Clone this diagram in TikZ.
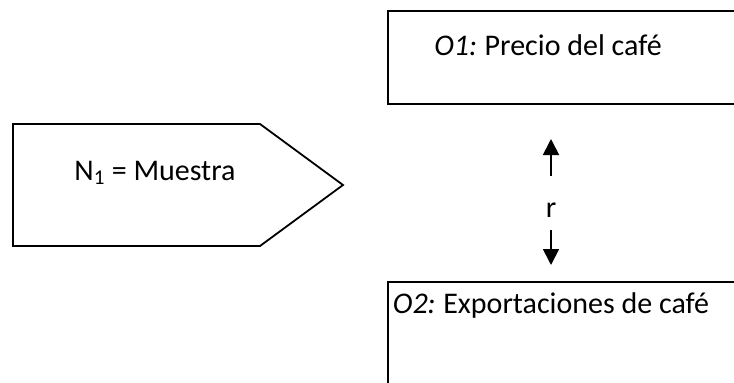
\documentclass[tikz,border=0pt]{standalone}
\usepackage{fontspec}
\setmainfont{Carlito}
\usetikzlibrary{arrows.meta,positioning}
\tikzstyle{box}=[rectangle,draw,line width=1.8pt,inner sep=0pt,anchor=north west]
\tikzstyle{label text}=[inner sep=0pt,anchor=base,font=\fontsize{30}{36}\selectfont]
\tikzstyle{rel}=[-{Triangle[width=16pt,length=16pt]},line width=1.8pt]

\begin{document}
\begin{tikzpicture}[x=1pt,y=-1pt]
\clip (0,0) rectangle (734,383);

% sample
\draw[line width=1.8pt] (13,124) -- (260,124) -- (343,185) -- (260,246) -- (13,246) -- cycle;
\node[label text] (n1) at (155,180) {N\textsubscript{1} = Muestra};

% observations
\node[box,minimum width=400pt,minimum height=93pt] (o1) at (387,10) {};
\node[label text] (o1 text) at (548,55) {\textit{O1:}\kern-1.5pt{} Precio del café};
\node[box,minimum width=400pt,minimum height=200pt] (o2) at (387,281) {};
\node[label text] (o2 text) at (551,313) {\textit{O2:}\kern-1.5pt{} Exportaciones de café};

% correlation
\node[label text] (r) at (551,217) {r};
\coordinate (r up) at (551,139);
\coordinate (r down) at (551,265);
\draw[rel,shorten <=26pt] (r.north) -- (r up);
\draw[rel,shorten <=13pt] (r.south) -- (r down);

\end{tikzpicture}
\end{document}
